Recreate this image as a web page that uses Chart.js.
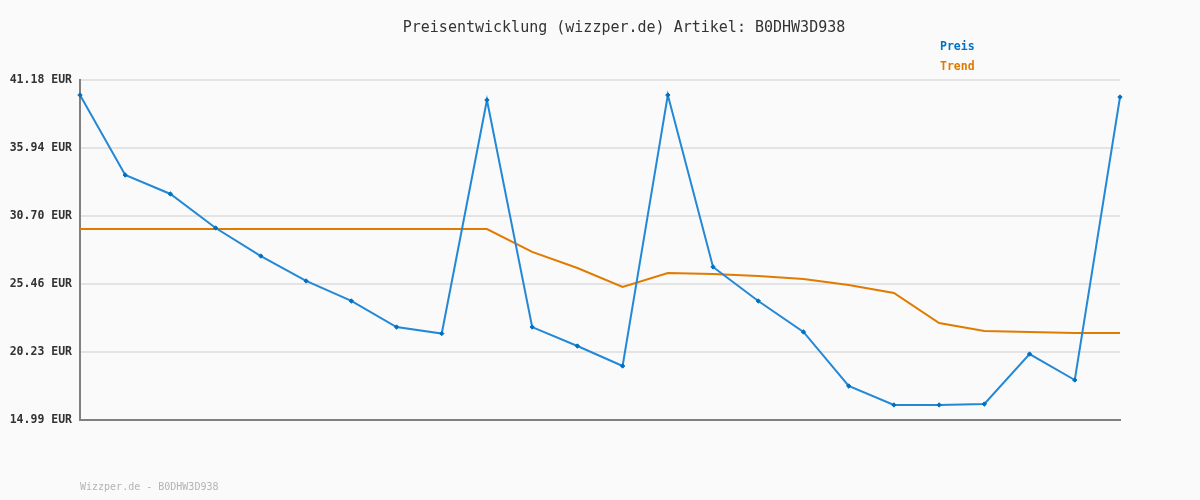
<!DOCTYPE html>
<html>
<head>
<meta charset="utf-8">
<script src="https://cdn.jsdelivr.net/npm/chart.js@4"></script>
<style>
	html, body { margin: 0; padding: 0; background: #fafafa; }
	#wrap { width: 1200px; height: 500px; }
</style>
</head>
<body>
<div id="wrap"><canvas id="chart" width="1200" height="500"></canvas></div>
<script>
const titleText = 'Preisentwicklung (wizzper.de) Artikel: B0DHW3D938';
const footerText = 'Wizzper.de - B0DHW3D938';

const labels = Array.from({ length: 24 }, () => '');
const preis = [
	40.02, 33.86, 32.40, 29.78, 27.62, 25.70, 24.16, 22.15, 21.65, 39.64, 22.15, 20.69,
	19.15, 40.02, 26.78, 24.16, 21.77, 17.61, 16.15, 16.15, 16.22, 20.07, 18.07, 39.87,
];
const trend = [
	29.70, 29.70, 29.70, 29.70, 29.70, 29.70, 29.70, 29.70, 29.70, 29.70, 27.94, 26.70,
	25.24, 26.31, 26.24, 26.08, 25.85, 25.39, 24.77, 22.46, 21.85, 21.77, 21.69, 21.69,
];
const yTicks = [14.99, 20.23, 25.46, 30.70, 35.94, 41.18];

const MONO = '"DejaVu Sans Mono", "Liberation Mono", monospace';

// title, legend and footer are drawn by hand to sit where the original has them
const textPlugin = {
	id: 'texts',
	afterDraw(chart) {
		const ctx = chart.ctx;
		ctx.save();
		ctx.textBaseline = 'middle';

		ctx.font = '15px ' + MONO;
		ctx.fillStyle = '#333';
		ctx.textAlign = 'center';
		ctx.fillText(titleText, 624, 28);

		ctx.font = 'bold 11.5px ' + MONO;
		ctx.textAlign = 'left';
		chart.data.datasets.forEach((ds, i) => {
			ctx.fillStyle = ds.legendColor;
			ctx.fillText(ds.label, 940, 47 + i * 20);
		});

		ctx.font = '10px ' + MONO;
		ctx.fillStyle = '#b4b4b4';
		ctx.fillText(footerText, 80, 487);
		ctx.restore();
	},
};

const ctx = document.getElementById('chart').getContext('2d');
new Chart(ctx, {
	type: 'line',
	data: {
		labels: labels,
		datasets: [
			{
				label: 'Preis',
				data: preis,
				borderColor: '#2388d6',
				borderWidth: 2,
				pointStyle: 'rectRot',
				pointRadius: 2.2,
				pointBackgroundColor: '#0070c0',
				pointBorderColor: '#0070c0',
				pointBorderWidth: 1,
				legendColor: '#0074c4',
				tension: 0,
				order: 1,
			},
			{
				label: 'Trend',
				data: trend,
				borderColor: '#e07b00',
				borderWidth: 2,
				pointRadius: 0,
				legendColor: '#e07b00',
				tension: 0,
				order: 2,
			},
		],
	},
	options: {
		responsive: false,
		animation: false,
		layout: { padding: { top: 80, right: 80, bottom: 80, left: 0 } },
		plugins: {
			legend: { display: false },
			title: { display: false },
			tooltip: { enabled: false },
		},
		scales: {
			x: {
				offset: false,
				grid: { display: false },
				ticks: { display: false },
				border: { color: '#808080', width: 2 },
				afterFit: (scale) => { scale.height = 0; },
			},
			y: {
				min: yTicks[0],
				max: yTicks[yTicks.length - 1],
				afterBuildTicks: (scale) => {
					scale.ticks = yTicks.map((v) => ({ value: v }));
				},
				afterFit: (scale) => { scale.width = 80; },
				grid: { color: '#e4e4e4', lineWidth: 2, drawTicks: false },
				border: { color: '#808080', width: 2 },
				ticks: {
					padding: 8,
					color: '#333',
					font: { family: MONO, size: 11.5, weight: 'bold' },
					callback: (v) => v.toFixed(2) + ' EUR',
				},
			},
		},
	},
	plugins: [textPlugin],
});
</script>
</body>
</html>
